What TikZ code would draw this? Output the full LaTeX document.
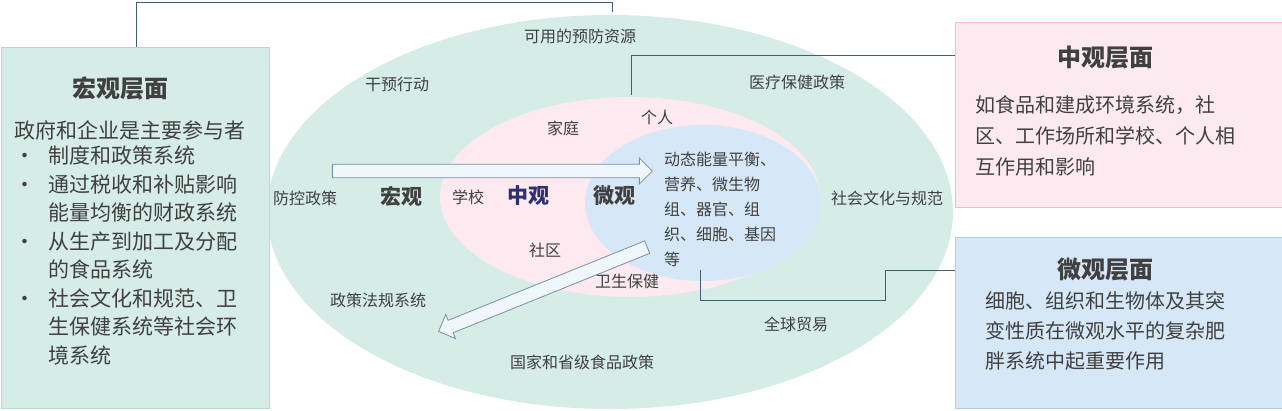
\documentclass[tikz,border=0pt]{standalone}
\usepackage{fontspec}
\newfontfamily\cjk{Noto Sans CJK SC}
\usetikzlibrary{shapes.arrows}
\definecolor{teal1}{HTML}{D6ECE7}
\definecolor{tealb}{HTML}{B5DAD2}
\definecolor{pink1}{HTML}{FCEAF0}
\definecolor{blue1}{HTML}{D6E8F8}
\definecolor{blueb}{HTML}{B0CDEA}
\definecolor{txt}{HTML}{404040}
\definecolor{lnc}{HTML}{3F5F73}
\begin{document}
\begin{tikzpicture}[x=1pt,y=-1pt,font=\cjk\fontsize{16}{19}\selectfont,text=txt,
 lbl/.style={inner sep=0pt},
 bold/.style={font=\cjk\fontsize{21}{24}\selectfont\bfseries},
 title/.style={font=\cjk\fontsize{24}{28}\selectfont\bfseries},
 conn/.style={draw=lnc,line width=1pt},
 harrow/.style={single arrow,draw=blueb!70!black,fill=blue1!40,line width=0.8pt,minimum width=26pt,single arrow head extend=6pt,inner sep=6pt,anchor=center}]
\useasboundingbox (0,0) rectangle (1282,410);
\fill[white] (0,0) rectangle (1282,410);
% ellipses
\fill[teal1] (610,212) ellipse (343 and 197);
\fill[pink1] (630,197) ellipse (190 and 100);
\fill[blue1] (703,203) ellipse (118 and 78);
% boxes
\node[draw=tealb,fill=teal1,line width=1pt,minimum width=268pt,minimum height=361pt,anchor=north west] (L) at (1,47) {};
\node[fill=pink1,minimum width=327pt,minimum height=185pt,anchor=north west,draw=pink1!80!red] (M) at (955,22) {};
\node[fill=blue1,draw=blueb,minimum width=327pt,minimum height=171pt,anchor=north west] (W) at (955,237) {};
% connectors
\coordinate (c1) at (612,12);
\draw[conn] (L.north -| 136,0) -- (136,2) -- (612,2) -- (c1);
\coordinate (c2) at (631,95);
\draw[conn] (c2) -- (631,55) -- (M.west |- 0,55);
\coordinate (c3) at (700,270);
\draw[conn] (c3) -- (700,300) -- (885,300) -- (885,270) -- (W.west |- 0,270);
% arrows
\node[harrow,minimum height=320pt] (a1) at (489,171) {};
\node[harrow,minimum height=225pt,rotate=202] (a2) at (546,288) {};
% left text
\node[title] (lt) at (120,88) {宏观层面};
\node[lbl,anchor=west,font=\cjk\fontsize{21}{24}\selectfont] (l0) at (14,130) {政府和企业是主要参与者};
\node[lbl,anchor=north west,align=left,font=\cjk\fontsize{21}{28.5}\selectfont] (l1) at (14,146) {%
\makebox[34pt][l]{•}制度和政策系统\\
\makebox[34pt][l]{•}通过税收和补贴影响\\
\hspace*{34pt}能量均衡的财政系统\\
\makebox[34pt][l]{•}从生产到加工及分配\\
\hspace*{34pt}的食品系统\\
\makebox[34pt][l]{•}社会文化和规范、卫\\
\hspace*{34pt}生保健系统等社会环\\
\hspace*{34pt}境系统};
% right texts
\node[title] (mt) at (1105,58) {中观层面};
\node[lbl,anchor=north west,align=left,font=\cjk\fontsize{20}{31}\selectfont] (mx) at (975,95) {如食品和建成环境系统，社\\区、工作场所和学校、个人相\\互作用和影响};
\node[title] (wt) at (1105,270) {微观层面};
\node[lbl,anchor=north west,align=left,font=\cjk\fontsize{20}{30}\selectfont] (wx) at (985,291) {细胞、组织和生物体及其突\\变性质在微观水平的复杂肥\\胖系统中起重要作用};
% ellipse labels
\node (t1) at (580,36) {可用的预防资源};
\node (t2) at (397,84) {干预行动};
\node (t3) at (797,82) {医疗保健政策};
\node (t4) at (563,128) {家庭};
\node (t5) at (657,117) {个人};
\node (t6) at (305,198) {防控政策};
\node[bold] (t7) at (401,196) {宏观};
\node (t8) at (468,197) {学校};
\node[bold,text=txt!75!blue] (t9) at (528,196) {中观};
\node[bold] (t10) at (614,196) {微观};
\node[lbl,anchor=north west,align=left,font=\cjk\fontsize{16}{25}\selectfont] (t11) at (664,152) {动态能量平衡、\\营养、微生物\\组、器官、组\\织、细胞、基因\\等};
\node (t12) at (887,198) {社会文化与规范};
\node (t13) at (545,250) {社区};
\node (t14) at (627,281) {卫生保健};
\node (t15) at (378,300) {政策法规系统};
\node (t16) at (796,324) {全球贸易};
\node (t17) at (582,362) {国家和省级食品政策};
\end{tikzpicture}
\end{document}
